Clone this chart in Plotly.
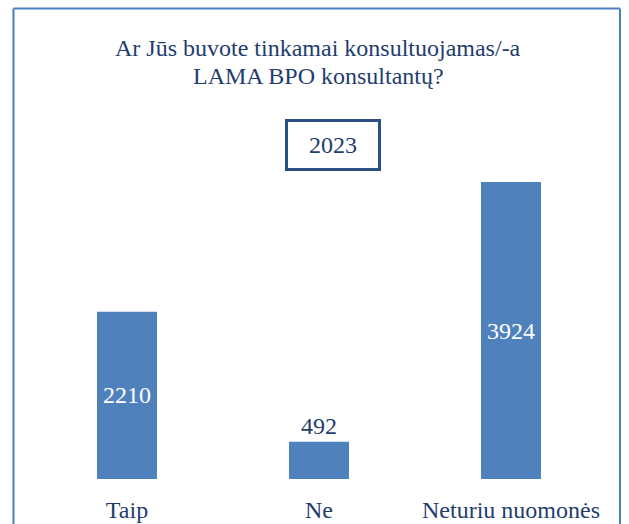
import plotly.graph_objects as go

categories = ["Taip", "Ne", "Neturiu nuomonės"]
values = [2210, 492, 3924]
text_positions = ["inside", "outside", "inside"]
title_lines = ["Ar Jūs buvote tinkamai konsultuojamas/-a", "LAMA BPO konsultantų?"]
year_label = "2023"

W, H = 629, 524
L, R, T, B = 31, 22, 160, 45
pw, ph = W - L - R, H - T - B

def px(x):
    return (x - L) / pw

def py(y):
    return (H - B - y) / ph

dark = "#1f3d6e"
bar_color = "#4f81bd"
font = "Liberation Serif"
fs = 24

fig = go.Figure(go.Bar(
    x=categories, y=values,
    marker=dict(color=bar_color, line=dict(width=0)),
    text=[str(v) for v in values],
    textposition=text_positions,
    insidetextanchor="middle",
    insidetextfont=dict(color="white", size=fs, family=font),
    outsidetextfont=dict(color=dark, size=fs, family=font),
    textangle=0,
    cliponaxis=False,
    width=0.3125,
))

fig.update_layout(
    width=W, height=H,
    margin=dict(l=L, r=R, t=T, b=B, autoexpand=False),
    paper_bgcolor="white", plot_bgcolor="white",
    showlegend=False,
    font=dict(family=font, color=dark, size=fs),
    xaxis=dict(showline=False, showgrid=False, ticks="", ticklen=0, ticklabelstandoff=14,
               automargin=False, tickfont=dict(size=fs, color=dark, family=font)),
    yaxis=dict(visible=False, range=[0, 4214.6], automargin=False),
    bargap=0.6875,
    annotations=[
        dict(text=title_lines[0], xref="paper", yref="paper", x=px(318), y=py(48),
             xanchor="center", yanchor="middle", showarrow=False,
             font=dict(size=fs, color=dark, family=font)),
        dict(text=title_lines[1], xref="paper", yref="paper", x=px(318), y=py(76),
             xanchor="center", yanchor="middle", showarrow=False,
             font=dict(size=fs, color=dark, family=font)),
        dict(text=year_label, xref="paper", yref="paper", x=px(333), y=py(145),
             xanchor="center", yanchor="middle", showarrow=False,
             font=dict(size=fs, color=dark, family=font),
             bordercolor="#2b4f82", borderwidth=3, borderpad=10,
             width=70, height=26, bgcolor="white"),
    ],
    shapes=[
        dict(type="line", xref="paper", yref="paper", x0=px(13.5), x1=px(13.5), y0=py(8.5), y1=py(540),
             line=dict(color="#4a7fc1", width=2)),
        dict(type="line", xref="paper", yref="paper", x0=px(620), x1=px(620), y0=py(8.5), y1=py(540),
             line=dict(color="#4a7fc1", width=2)),
        dict(type="line", xref="paper", yref="paper", x0=px(13.5), x1=px(620), y0=py(8.5), y1=py(8.5),
             line=dict(color="#4a7fc1", width=2)),
    ],
)

fig.write_html("out.html", config={"displayModeBar": False},
               post_script="document.body.style.margin='0';document.body.style.padding='0';")
